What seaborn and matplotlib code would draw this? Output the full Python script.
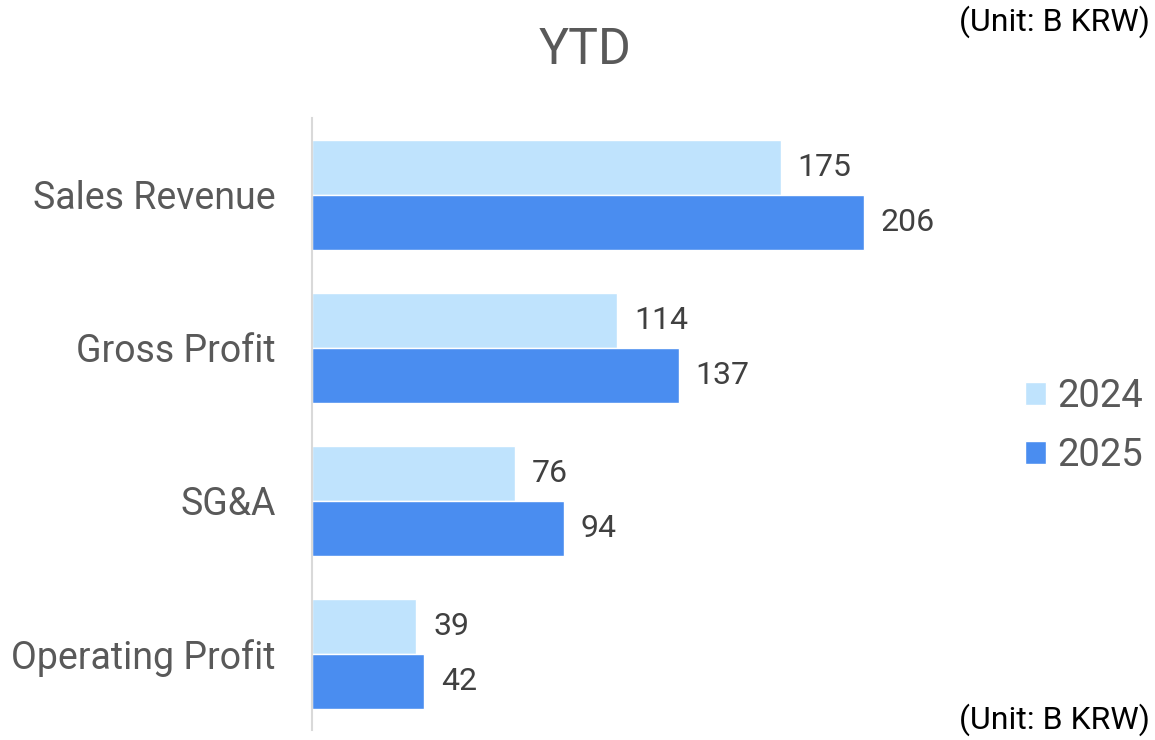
import pandas as pd
import seaborn as sns
import matplotlib.pyplot as plt

# data (B KRW)
metrics = ['Sales Revenue', 'Gross Profit', 'SG&A', 'Operating Profit']
years = ['2024', '2025']
values_2024 = [175, 114, 76, 39]
values_2025 = [206, 137, 94, 42]
colors = {'2024': '#BFE3FD', '2025': '#4A8DF0'}

df = pd.DataFrame({
    'metric': metrics * 2,
    'year': [years[0]] * len(metrics) + [years[1]] * len(metrics),
    'value': values_2024 + values_2025,
})

sns.set_style('white')
plt.rcParams['font.family'] = ['Roboto', 'DejaVu Sans']

fig = plt.figure(figsize=(11.55, 7.4), dpi=100)
ax = fig.add_axes([0.2701, 0.0135, 0.561, 0.827])

sns.barplot(data=df, y='metric', x='value', hue='year', palette=colors,
            orient='h', width=0.72, gap=0, saturation=1, ax=ax)

for cont in ax.containers:
    ax.bar_label(cont, padding=12, fontsize=23, color='#404040')

ax.set_xlim(0, 242)
ax.set_ylim(3.497, -0.503)
ax.set_xlabel('')
ax.set_ylabel('')
ax.set_xticks([])
ax.tick_params(axis='y', length=0, pad=26, labelsize=27, labelcolor='#595959')
for side in ['top', 'right', 'bottom']:
    ax.spines[side].set_visible(False)
ax.spines['left'].set_color('#D9D9D9')
ax.spines['left'].set_linewidth(1.5)

handles, labels = ax.get_legend_handles_labels()
ax.legend(handles, labels, loc='center left', bbox_to_anchor=(1006 / 1155, 1 - 426 / 740),
          bbox_transform=fig.transFigure, frameon=False, fontsize=27.5,
          labelcolor='#595959', handlelength=0.55, handleheight=0.55,
          handletextpad=0.3, labelspacing=0.6, borderpad=0)

fig.text(585 / 1155, 1 - 50 / 740, 'YTD', ha='center', va='center', fontsize=36, color='#595959')
fig.text(1150 / 1155, 1 - 22 / 740, '(Unit: B KRW)', ha='right', va='center', fontsize=23, color='#000000')
fig.text(1150 / 1155, 1 - 720 / 740, '(Unit: B KRW)', ha='right', va='center', fontsize=23, color='#000000')

fig.savefig('out.png', dpi=100)
